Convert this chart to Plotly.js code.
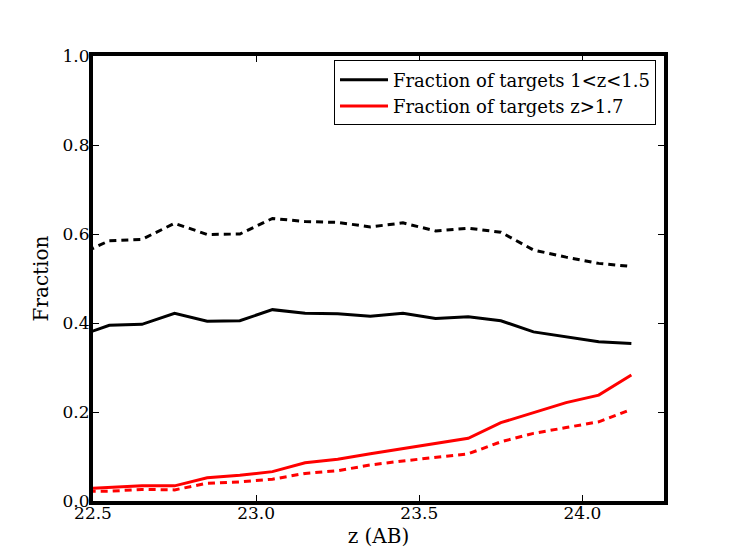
<!DOCTYPE html>
<html>
<head>
<meta charset="utf-8">
<script src="https://cdn.plot.ly/plotly-3.0.1.min.js"></script>
<style>html,body{margin:0;padding:0;background:#fff;}#chart{width:738px;height:557px;}</style>
</head>
<body>
<div id="chart"></div>
<script>
var magBins = [22.45, 22.55, 22.65, 22.75, 22.85, 22.95, 23.05, 23.15, 23.25, 23.35, 23.45, 23.55, 23.65, 23.75, 23.85, 23.95, 24.05, 24.15];
var fracMidSolid = [0.369, 0.395, 0.397, 0.422, 0.404, 0.405, 0.430, 0.422, 0.421, 0.415, 0.422, 0.410, 0.414, 0.405, 0.380, 0.369, 0.358, 0.354];
var fracMidDashed = [0.551, 0.585, 0.588, 0.624, 0.599, 0.600, 0.635, 0.628, 0.626, 0.616, 0.625, 0.607, 0.613, 0.604, 0.564, 0.548, 0.534, 0.527];
var fracHighSolid = [0.027, 0.030, 0.034, 0.034, 0.052, 0.058, 0.066, 0.086, 0.094, 0.106, 0.118, 0.130, 0.141, 0.176, 0.199, 0.221, 0.238, 0.283];
var fracHighDashed = [0.022, 0.022, 0.026, 0.025, 0.040, 0.043, 0.049, 0.062, 0.068, 0.081, 0.090, 0.098, 0.106, 0.133, 0.152, 0.165, 0.178, 0.206];
var legendLabels = ['Fraction of targets 1<z<1.5', 'Fraction of targets z>1.7'];
var xTicks = [22.5, 23.0, 23.5, 24.0];
var yTicks = [0.0, 0.2, 0.4, 0.6, 0.8, 1.0];

var serif = 'DejaVu Serif, serif';
var traces = [
  {x: magBins, y: fracMidSolid, mode: 'lines', name: legendLabels[0], line: {color: '#000000', width: 3}},
  {x: magBins, y: fracHighSolid, mode: 'lines', name: legendLabels[1], line: {color: '#ff0000', width: 3}},
  {x: magBins, y: fracMidDashed, mode: 'lines', showlegend: false, line: {color: '#000000', width: 3, dash: '7px,5px'}},
  {x: magBins, y: fracHighDashed, mode: 'lines', showlegend: false, line: {color: '#ff0000', width: 3, dash: '7px,5px'}}
];
var layout = {
  width: 738, height: 557,
  margin: {l: 93, r: 74, t: 56, b: 56, pad: 0},
  paper_bgcolor: '#ffffff', plot_bgcolor: '#ffffff',
  font: {family: serif, color: '#000000', size: 17},
  xaxis: {
    range: [22.5, 24.25], tickvals: xTicks, ticktext: xTicks.map(function(v){return v.toFixed(1);}),
    ticks: 'inside', ticklen: 6, tickwidth: 1, tickcolor: '#000', mirror: 'allticks',
    showline: true, linewidth: 4, linecolor: '#000', showgrid: false, zeroline: false,
    tickfont: {family: serif, size: 17}, ticklabelstandoff: -6,
    title: {text: 'z (AB)', font: {family: serif, size: 20}, standoff: 8}
  },
  yaxis: {
    range: [0, 1], tickvals: yTicks, ticktext: yTicks.map(function(v){return v.toFixed(1);}),
    ticks: 'inside', ticklen: 6, tickwidth: 1, tickcolor: '#000', mirror: 'allticks',
    showline: true, linewidth: 4, linecolor: '#000', showgrid: false, zeroline: false,
    tickfont: {family: serif, size: 17}, ticklabelstandoff: -4,
    title: {text: 'Fraction', font: {family: serif, size: 20}, standoff: 10}
  },
  legend: {
    x: 0.986, y: 0.99, xanchor: 'right', yanchor: 'top',
    bgcolor: '#ffffff', bordercolor: '#000000', borderwidth: 1,
    font: {family: serif, size: 18}, tracegroupgap: 0, itemwidth: 48
  },
  showlegend: true
};
Plotly.newPlot('chart', traces, layout, {displayModeBar: false, staticPlot: true});
</script>
</body>
</html>
